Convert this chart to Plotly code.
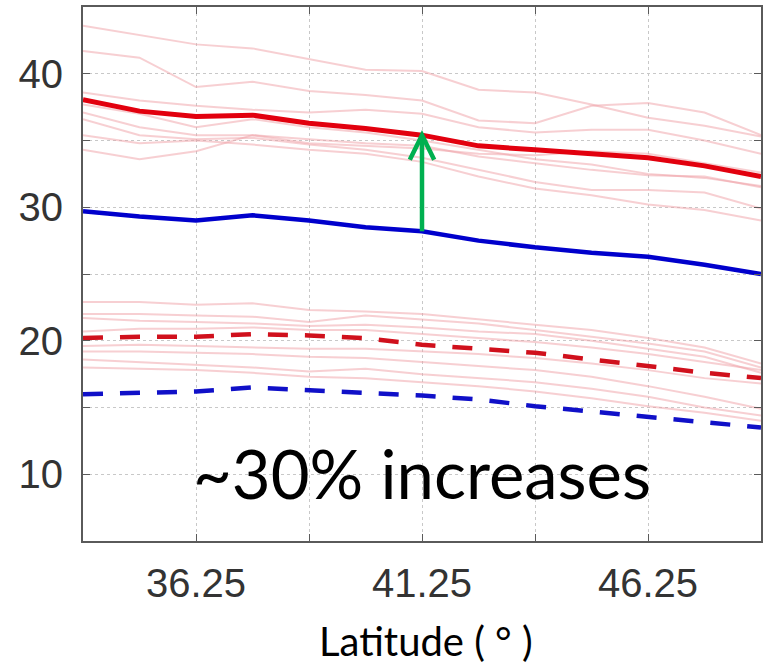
import plotly.graph_objects as go

lat = [33.75, 35.0, 36.25, 37.5, 38.75, 40.0, 41.25, 42.5, 43.75, 45.0, 46.25, 47.5, 48.75]

# thin pink ensemble members (upper group: solid-type metric, lower group: dashed-type metric)
upper_members = [
    [43.6, 42.9, 42.2, 41.9, 41.1, 40.3, 40.2, 38.8, 38.6, 37.7, 36.7, 36.1, 35.3],
    [41.7, 41.2, 39.0, 39.4, 38.7, 38.4, 38.0, 36.5, 36.3, 37.6, 37.8, 37.1, 35.4],
    [38.6, 38.0, 37.6, 37.3, 37.1, 37.3, 37.0, 36.0, 35.6, 35.8, 35.8, 35.0, 34.0],
    [37.7, 37.0, 36.0, 36.6, 36.0, 35.6, 35.0, 34.3, 33.6, 33.2, 32.5, 32.2, 31.6],
    [37.1, 36.0, 35.4, 35.4, 35.1, 34.8, 34.6, 33.8, 33.3, 32.8, 32.4, 32.3, 31.5],
    [36.6, 35.4, 35.1, 35.2, 34.7, 34.3, 33.7, 32.8, 31.9, 31.3, 31.3, 31.1, 29.9],
    [35.4, 34.8, 35.0, 34.7, 34.3, 34.0, 33.4, 32.3, 31.4, 30.9, 30.2, 29.8, 29.0],
    [34.3, 33.6, 34.2, 35.4, 34.8, 34.6, 34.4, 34.0, 33.9, 34.2, 34.0, 33.3, 32.6],
]
lower_members = [
    [22.9, 22.9, 22.7, 22.8, 22.3, 22.2, 22.0, 21.6, 21.2, 20.8, 20.2, 19.5, 18.3],
    [22.0, 22.0, 21.9, 21.8, 21.4, 21.9, 21.6, 21.3, 20.8, 20.3, 19.8, 19.2, 18.0],
    [21.7, 21.5, 21.4, 21.3, 21.1, 21.2, 21.0, 20.7, 20.5, 20.0, 19.4, 18.8, 17.6],
    [20.7, 20.9, 20.9, 21.0, 20.8, 20.8, 20.5, 20.2, 19.9, 19.5, 19.0, 18.4, 17.8],
    [19.6, 19.7, 19.6, 19.5, 19.4, 19.4, 19.2, 19.0, 18.7, 18.3, 17.8, 17.2, 16.8],
    [19.2, 19.2, 19.1, 19.0, 18.8, 18.7, 18.4, 18.1, 17.8, 17.3, 16.6, 15.8, 14.9],
    [18.6, 18.4, 18.2, 18.0, 17.7, 17.9, 17.5, 17.2, 16.9, 16.4, 15.8, 15.0, 14.4],
    [18.0, 17.9, 17.8, 17.6, 17.3, 17.2, 16.9, 16.6, 16.2, 15.7, 15.1, 14.6, 14.0],
]

future_solid = [38.05, 37.2, 36.8, 36.9, 36.3, 35.9, 35.4, 34.6, 34.3, 34.0, 33.7, 33.1, 32.3]
hist_solid = [29.7, 29.3, 29.0, 29.4, 29.0, 28.5, 28.2, 27.5, 27.0, 26.6, 26.3, 25.7, 25.0]
future_dashed = [20.2, 20.3, 20.3, 20.5, 20.4, 20.2, 19.7, 19.4, 19.1, 18.6, 18.1, 17.6, 17.2]
hist_dashed = [16.0, 16.1, 16.2, 16.5, 16.3, 16.1, 15.9, 15.6, 15.1, 14.7, 14.3, 13.9, 13.5]

x_ticks = [36.25, 41.25, 46.25]
y_ticks = [10, 20, 30, 40]
arrow_lat = 41.25
annotation_text = "~30% increases"
x_title = "Latitude ( ° )"

fig = go.Figure()
pink = "rgba(240,160,165,0.5)"
for m in upper_members + lower_members:
    fig.add_trace(go.Scatter(x=lat, y=m, mode="lines", line=dict(color=pink, width=2),
                             showlegend=False, hoverinfo="skip"))

fig.add_trace(go.Scatter(x=lat, y=future_dashed, mode="lines",
                         line=dict(color="#d0101c", width=4.5, dash="20px,17px"), showlegend=False))
fig.add_trace(go.Scatter(x=lat, y=hist_dashed, mode="lines",
                         line=dict(color="#1010c8", width=4.5, dash="20px,17px"), showlegend=False))
fig.add_trace(go.Scatter(x=lat, y=hist_solid, mode="lines",
                         line=dict(color="#0000cc", width=4.5), showlegend=False))
fig.add_trace(go.Scatter(x=lat, y=future_solid, mode="lines",
                         line=dict(color="#e2000e", width=5), showlegend=False))

# green arrow from historical to future at arrow_lat
i = lat.index(arrow_lat)
tail_y = hist_solid[i]
tip_y = future_solid[i]
green = "#00b050"
fig.add_shape(type="line", xref="x", yref="y", x0=arrow_lat, x1=arrow_lat,
              y0=tail_y, y1=tip_y - 0.1, line=dict(color=green, width=4.5))
wx, wy = 0.27, 1.85
fig.add_shape(type="path", xref="x", yref="y",
              path=f"M {arrow_lat - wx},{tip_y - wy} L {arrow_lat},{tip_y} L {arrow_lat + wx},{tip_y - wy}",
              line=dict(color=green, width=4.5))

fig.add_annotation(x=arrow_lat, y=10.1, xref="x", yref="y", text=annotation_text,
                   showarrow=False, font=dict(family="Lato", size=67, color="black"),
                   xanchor="center", yanchor="middle")
fig.add_annotation(x=(426 - 83) / 678, y=-(641 - 541) / 536, xref="paper", yref="paper",
                   text=x_title, showarrow=False,
                   font=dict(family="Lato", size=40, color="black"),
                   xanchor="center", yanchor="middle")

axis_common = dict(showline=True, linecolor="#5a5a5a", linewidth=2, mirror="ticks",
                   ticks="inside", ticklen=7, tickcolor="#5a5a5a", tickwidth=1.2,
                   showgrid=True, gridcolor="#c8c8c8", gridwidth=1, griddash="dot",
                   zeroline=False,
                   tickfont=dict(family="Liberation Sans", size=40, color="#333333"))

fig.update_xaxes(range=[33.75, 48.75], tickmode="array", tickvals=x_ticks,
                 ticktext=[f"{v:.2f}" for v in x_ticks], ticklabelstandoff=6,
                 minor=dict(tick0=33.75, dtick=2.5, ticks="inside", ticklen=7,
                            tickcolor="#5a5a5a", showgrid=True, gridcolor="#c8c8c8",
                            griddash="dot"),
                 **axis_common)
fig.update_yaxes(range=[5, 45], tickmode="array", tickvals=y_ticks,
                 ticktext=[str(v) for v in y_ticks], ticklabelstandoff=10,
                 minor=dict(tick0=5, dtick=5, ticks="inside", ticklen=7,
                            tickcolor="#5a5a5a", showgrid=True, gridcolor="#c8c8c8",
                            griddash="dot"),
                 **axis_common)

fig.update_layout(width=768, height=671, margin=dict(l=83, r=7, t=5, b=130),
                  plot_bgcolor="white", paper_bgcolor="white", showlegend=False)

fig.write_html("out.html")
